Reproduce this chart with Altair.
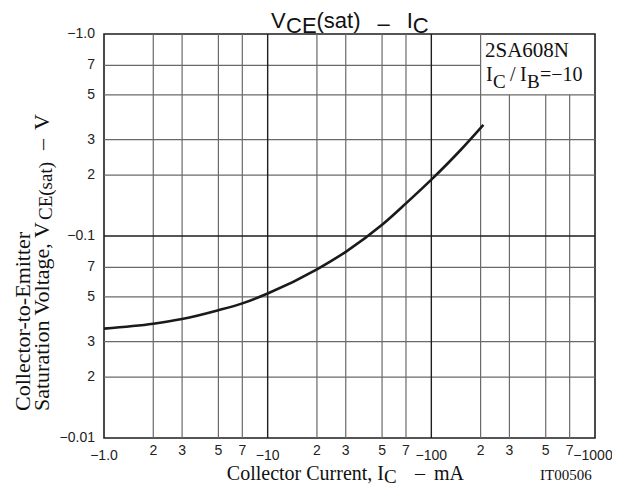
import altair as alt
import pandas as pd

# ---------------- data ----------------
ic = [1, 2, 3, 5, 7, 10, 20, 30, 50, 70, 100, 150, 208]
vce = [0.0348, 0.0368, 0.0388, 0.0429, 0.0464, 0.0519, 0.0684, 0.0835,
       0.1136, 0.145, 0.19, 0.265, 0.355]

x_minor_ticks = [2, 3, 5, 7, 20, 30, 50, 70, 200, 300, 500, 700]
x_minor_labels = ["2", "3", "5", "7", "2", "3", "5", "7", "2", "3", "5", "7"]
x_major_ticks = [1, 10, 100, 1000]
x_major_labels = ["\u22121.0", "\u221210", "\u2212100", "\u22121000"]

y_ticks = [0.01, 0.02, 0.03, 0.05, 0.07, 0.1, 0.2, 0.3, 0.5, 0.7, 1.0]
y_labels = ["\u22120.01", "2", "3", "5", "7", "\u22120.1", "2", "3", "5", "7", "\u22121.0"]

# grid lines (the legend box in the top-right corner hides some of them)
grid_x_minor = [2, 3, 5, 7, 20, 30, 50, 70, 200, 300, 500, 700]
grid_x_minor_top = [1, 1, 1, 1, 1, 1, 1, 1, 1, 0.5, 0.5, 0.5]
grid_x_major = [10, 100]
grid_y_minor = [0.02, 0.03, 0.05, 0.07, 0.2, 0.3, 0.5, 0.7]
grid_y_minor_right = [1000, 1000, 1000, 1000, 1000, 1000, 1000, 200]
grid_y_major = [0.1]

# ---------------- setup ----------------
SANS = "Liberation Sans"
SERIF = "Liberation Serif"
W, H = 491, 404
xs = alt.Scale(type="log", domain=[1, 1000], nice=False)
ys = alt.Scale(type="log", domain=[0.01, 1], nice=False)
MINOR = "#6a6a6a"
MAJOR = "#1e1e1e"

curve_df = pd.DataFrame({"ic": ic, "v": vce})
vmin_df = pd.DataFrame({"x": grid_x_minor, "y1": [0.01] * len(grid_x_minor), "y2": grid_x_minor_top})
vmaj_df = pd.DataFrame({"x": grid_x_major, "y1": [0.01] * len(grid_x_major), "y2": [1.0] * len(grid_x_major)})
hmin_df = pd.DataFrame({"y": grid_y_minor, "x1": [1] * len(grid_y_minor), "x2": grid_y_minor_right})
hmaj_df = pd.DataFrame({"y": grid_y_major, "x1": [1], "x2": [1000]})
xmin_lab = pd.DataFrame({"v": x_minor_ticks, "lab": x_minor_labels})
xmaj_lab = pd.DataFrame({"v": x_major_ticks, "lab": x_major_labels})
ylab_df = pd.DataFrame({"v": y_ticks, "lab": y_labels})
ONE = pd.DataFrame({"k": [0]})


def vrules(df, color, width):
    return alt.Chart(df).mark_rule(color=color, strokeWidth=width).encode(
        x=alt.X("x:Q", scale=xs, axis=None),
        y=alt.Y("y1:Q", scale=ys, axis=None),
        y2="y2:Q",
    )


def hrules(df, color, width):
    return alt.Chart(df).mark_rule(color=color, strokeWidth=width).encode(
        y=alt.Y("y:Q", scale=ys, axis=None),
        x=alt.X("x1:Q", scale=xs, axis=None),
        x2="x2:Q",
    )


def txt(s, x, y, size, font=SERIF, align="left", baseline="alphabetic", angle=0, color="#111"):
    return alt.Chart(ONE).mark_text(
        text=s, font=font, fontSize=size, align=align, baseline=baseline,
        angle=angle, color=color,
    ).encode(x=alt.value(x), y=alt.value(y))


tick_style = dict(font=SANS, fontSize=14, color="#222", baseline="middle")

layers = [
    vrules(vmin_df, MINOR, 1.2),
    hrules(hmin_df, MINOR, 1.2),
    vrules(vmaj_df, MAJOR, 1.4),
    hrules(hmaj_df, MAJOR, 1.4),
    alt.Chart(curve_df).mark_line(color="#1a1a1a", strokeWidth=2.6, interpolate="monotone").encode(
        x=alt.X("ic:Q", scale=xs, axis=None),
        y=alt.Y("v:Q", scale=ys, axis=None),
    ),
    # x tick labels
    alt.Chart(xmin_lab).mark_text(align="center", **tick_style).encode(
        x=alt.X("v:Q", scale=xs, axis=None), y=alt.value(H + 13), text="lab:N"),
    alt.Chart(xmaj_lab).transform_filter("datum.v < 1000").mark_text(align="center", **tick_style).encode(
        x=alt.X("v:Q", scale=xs, axis=None), y=alt.value(H + 18), text="lab:N"),
    alt.Chart(xmaj_lab).transform_filter("datum.v >= 1000").mark_text(align="center", dx=-2, **tick_style).encode(
        x=alt.X("v:Q", scale=xs, axis=None), y=alt.value(H + 18), text="lab:N"),
    # y tick labels
    alt.Chart(ylab_df).mark_text(align="right", **tick_style).encode(
        y=alt.Y("v:Q", scale=ys, axis=None), x=alt.value(-9), text="lab:N"),
    # title  V_CE(sat) - I_C
    txt("V", 167, -6, 22, font=SANS),
    txt("CE", 182, -1.5, 22, font=SANS),
    txt("(sat)", 212.5, -6, 22, font=SANS),
    txt("\u2013", 273.5, -3, 22, font=SANS),
    txt("I", 302.7, -6, 22, font=SANS),
    txt("C", 308.8, -1.5, 22, font=SANS),
    # x axis title
    txt("Collector Current, I", 280, H + 42, 20, align="right"),
    txt("C", 280, H + 45, 19),
    txt("\u2013", 311, H + 42, 20),
    txt("mA", 330, H + 42, 20),
    txt("IT00506", 436, H + 42, 15),
    # y axis title (rotated)
    txt("Collector-to-Emitter", -81, 377, 22, baseline="middle", angle=270),
    txt("Saturation Voltage, V", -62, 377, 22, baseline="middle", angle=270),
    txt("CE(sat)", -58, 186, 19, baseline="middle", angle=270),
    txt("\u2013", -62, 116, 22, baseline="middle", angle=270),
    txt("V", -62, 96, 22, baseline="middle", angle=270),
    # legend text
    txt("2SA608N", 381, 23, 21),
    txt("I", 382, 46.5, 20),
    txt("C", 389, 54, 19),
    txt("/", 406, 46.5, 20),
    txt("I", 416, 46.5, 20),
    txt("B", 423, 54, 19),
    txt("=\u221210", 436, 46.5, 20),
]

chart = alt.layer(*layers).properties(
    width=W,
    height=H,
    padding={"left": 96, "top": 26, "right": 17, "bottom": 49},
    autosize=alt.AutoSizeParams(type="none"),
    background="white",
).configure_view(stroke=MAJOR, strokeWidth=1.6)

chart.save("out.html", embed_options={"renderer": "svg", "actions": False})
